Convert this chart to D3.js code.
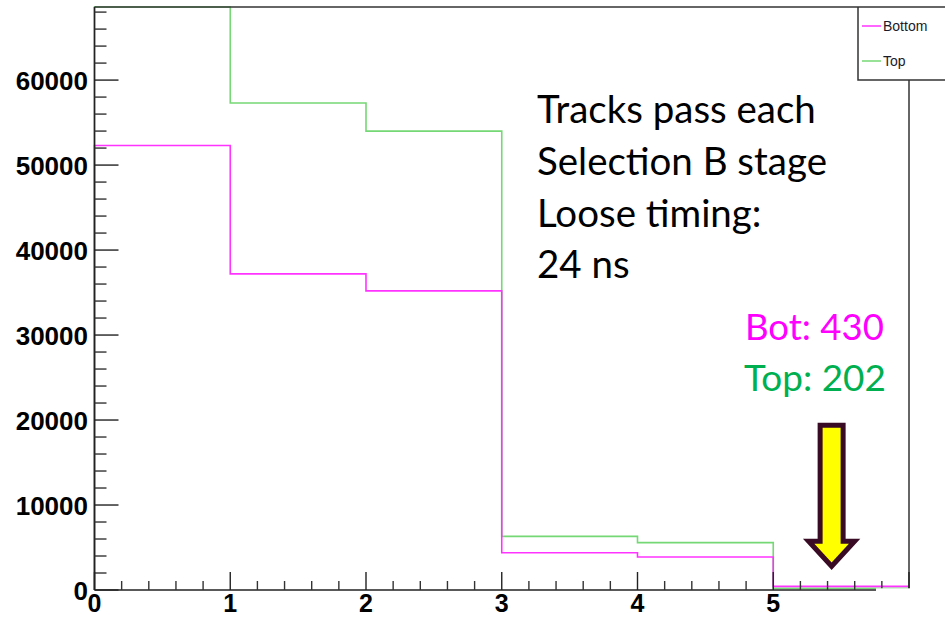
<!DOCTYPE html>
<html>
<head>
<meta charset="utf-8">
<script src="https://cdn.jsdelivr.net/npm/d3@7"></script>
<style>
  html, body { margin: 0; padding: 0; background: #fff; }
  svg { display: block; }
</style>
</head>
<body>
<svg id="chart" width="945" height="617"></svg>
<script>
// Bin edges of the selection-stage histogram
const binEdges = [0, 1, 2, 3, 4, 5, 6];
// Tracks passing each stage
const bottomCounts = [52300, 37200, 35200, 4390, 3880, 430];
const topCounts = [70500, 57300, 54000, 6310, 5570, 202];
const seriesNames = ["Bottom", "Top"];
const yTickLabels = [0, 10000, 20000, 30000, 40000, 50000, 60000];
const xTickLabels = [0, 1, 2, 3, 4, 5];
const noteLines = ["Tracks pass each", "Selection B stage", "Loose timing:", "24 ns"];

const svg = d3.select("#chart");
const W = 945, H = 617;

const x = d3.scaleLinear().domain([0, 6]).range([94.5, 909]);
const y = d3.scaleLinear().domain([0, 68600]).range([590, 7]).clamp(true);

const colBottom = "#ff33ff", colTop = "#74d874";
const axisCol = "#222";

// step outline of a histogram
function stepPath(vals) {
  let p = "M" + x(binEdges[0]) + "," + y(0);
  vals.forEach((v, i) => {
    p += "L" + x(binEdges[i]) + "," + y(v) + "L" + x(binEdges[i + 1]) + "," + y(v);
  });
  return p;
}

svg.append("path").attr("d", stepPath(topCounts))
  .attr("fill", "none").attr("stroke", colTop).attr("stroke-width", 1.6);
svg.append("path").attr("d", stepPath(bottomCounts))
  .attr("fill", "none").attr("stroke", colBottom).attr("stroke-width", 1.6);

// frame: top edge and right edge
svg.append("line").attr("x1", x(0)).attr("x2", W).attr("y1", y.range()[1]).attr("y2", y.range()[1])
  .attr("stroke", "#333").attr("stroke-width", 1.5);
svg.append("line").attr("x1", x(6)).attr("x2", x(6)).attr("y1", 80).attr("y2", y(0))
  .attr("stroke", "#333").attr("stroke-width", 1.5);

// y axis
const yMinor = d3.range(0, 68001, 2000).filter(v => v % 10000 !== 0);
const gy = svg.append("g");
gy.append("line").attr("x1", x(0)).attr("x2", x(0)).attr("y1", y(0)).attr("y2", y.range()[1])
  .attr("stroke", axisCol).attr("stroke-width", 1.6);
gy.selectAll(".ymaj").data(yTickLabels).join("line")
  .attr("x1", x(0)).attr("x2", x(0) + 24).attr("y1", d => y(d)).attr("y2", d => y(d))
  .attr("stroke", axisCol).attr("stroke-width", 1.4);
gy.selectAll(".ymin").data(yMinor).join("line")
  .attr("x1", x(0)).attr("x2", x(0) + 12).attr("y1", d => y(d)).attr("y2", d => y(d))
  .attr("stroke", "#333").attr("stroke-width", 1.4);
gy.selectAll("text").data(yTickLabels).join("text")
  .attr("x", 88).attr("y", d => y(d) + 10)
  .attr("text-anchor", "end")
  .attr("font-family", "'Liberation Sans', Arial, sans-serif")
  .attr("font-weight", "bold").attr("font-size", 26)
  .attr("fill", "#000")
  .text(d => d);

// x axis
const xMinor = d3.range(0, 30).map(i => i * 0.2).filter((v, i) => i % 5 !== 0);
const gx = svg.append("g");
gx.append("line").attr("x1", x(0)).attr("x2", x(6)).attr("y1", y(0)).attr("y2", y(0))
  .attr("stroke", axisCol).attr("stroke-width", 1.6);
gx.selectAll(".xmaj").data(binEdges).join("line")
  .attr("x1", d => x(d)).attr("x2", d => x(d)).attr("y1", y(0)).attr("y2", y(0) - 18)
  .attr("stroke", axisCol).attr("stroke-width", 1.4);
gx.selectAll(".xmin").data(xMinor).join("line")
  .attr("x1", d => x(d)).attr("x2", d => x(d)).attr("y1", y(0)).attr("y2", y(0) - 9)
  .attr("stroke", "#333").attr("stroke-width", 1.4);

// patch of blank page across the lower right corner
svg.append("rect").attr("x", 876).attr("y", 588.3).attr("width", W - 876).attr("height", H - 588.3)
  .attr("fill", "#fff");

gx.selectAll("text").data(xTickLabels).join("text")
  .attr("x", d => x(d)).attr("y", 612)
  .attr("text-anchor", "middle")
  .attr("font-family", "'Liberation Sans', Arial, sans-serif")
  .attr("font-weight", "bold").attr("font-size", 25)
  .attr("fill", "#000")
  .text(d => d);

// legend
const lg = svg.append("g");
lg.append("path").attr("d", "M858,7V80H" + W).attr("fill", "none").attr("stroke", "#333").attr("stroke-width", 1.5);
const legendItems = [{ name: seriesNames[0], col: colBottom, yy: 26 }, { name: seriesNames[1], col: colTop, yy: 61 }];
legendItems.forEach(it => {
  lg.append("line").attr("x1", 862).attr("x2", 881).attr("y1", it.yy).attr("y2", it.yy)
    .attr("stroke", it.col).attr("stroke-width", 1.5);
  lg.append("text").attr("x", 883).attr("y", it.yy + 5)
    .attr("font-family", "'Liberation Sans', Arial, sans-serif").attr("font-size", 14)
    .attr("fill", "#1a1a2a").text(it.name);
});

// annotation text
const noteFont = "Lato, 'Open Sans', sans-serif";
function fitText(sel, targetW) {
  const w = sel.node().getComputedTextLength();
  const fs = parseFloat(sel.attr("font-size"));
  sel.attr("font-size", fs * targetW / w);
}
const noteG = svg.append("g");
const noteTexts = noteLines.map((t, i) => noteG.append("text")
  .attr("x", 537).attr("y", 123 + i * 51.8)
  .attr("font-family", noteFont).attr("font-size", 36).attr("fill", "#000").text(t));
// scale all lines by the same factor taken from the widest line
{
  const w = noteTexts[1].node().getComputedTextLength();
  const fs = 36 * 290 / w;
  noteTexts.forEach(t => t.attr("font-size", fs));
}

const botLabel = svg.append("text").attr("x", 745).attr("y", 340)
  .attr("font-family", noteFont).attr("font-size", 38).attr("fill", "#ff00ff")
  .text("Bot: " + bottomCounts[5]);
fitText(botLabel, 139);
const topLabel = svg.append("text").attr("x", 744).attr("y", 391)
  .attr("font-family", noteFont).attr("font-size", 38).attr("fill", "#00b050")
  .text("Top: " + topCounts[5]);
fitText(topLabel, 142);

// arrow pointing at the last bin
const ax = x(5.43), aTop = y(19400), aBase = y(5750), aTip = y(2800);
const sw = 11.5, hw = 23;
svg.append("path")
  .attr("d", `M${ax - sw},${aTop}H${ax + sw}V${aBase}H${ax + hw}L${ax},${aTip}L${ax - hw},${aBase}H${ax - sw}Z`)
  .attr("fill", "#ffff00").attr("stroke", "#3a0b24").attr("stroke-width", 5)
  .attr("stroke-linejoin", "miter");
</script>
</body>
</html>
